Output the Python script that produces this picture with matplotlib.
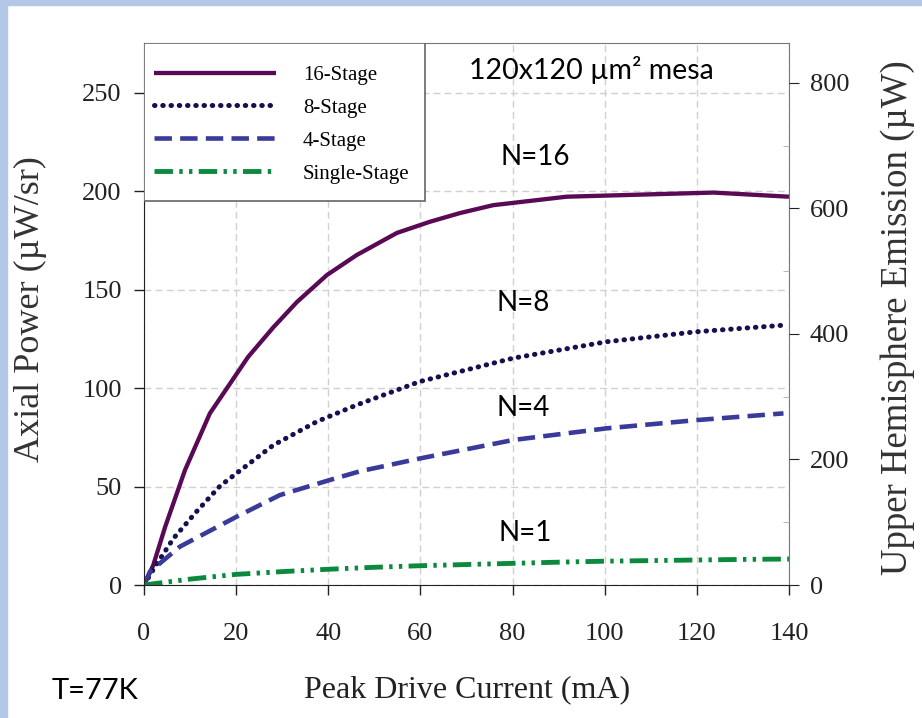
import matplotlib.pyplot as plt
from matplotlib.patches import Rectangle
from matplotlib.ticker import MultipleLocator

# peak drive current (mA) and axial power (uW/sr) for each device
x_16 = [0, 2, 4.6, 8.9, 14.3, 22.6, 28.1, 33.2, 39.7, 46.2, 54.9, 62.1, 68.6, 75.8, 91.7, 123.6, 140]
p_16 = [0, 10, 29.6, 58.4, 87.2, 115.9, 131, 143.8, 157.5, 167.7, 178.9, 184.6, 189, 193, 197.3, 199.4, 197.3]

x_8 = [0, 2.3, 6.4, 11.4, 16.5, 20.1, 28.1, 37.5, 46.2, 59.9, 80.2, 100.4, 120, 138.8]
p_8 = [0, 9, 23.7, 37.3, 50.3, 56.8, 71.1, 83, 91.5, 103.4, 115.3, 123.6, 128.7, 132]

x_4 = [0, 1.3, 7.8, 20.1, 29.5, 40.4, 46.9, 59.9, 80.2, 100.4, 120, 138.8]
p_4 = [0, 6.8, 19.5, 34.7, 45.7, 53.4, 57.8, 64.3, 73.7, 79.6, 83.8, 87.2]

x_1 = [0, 5, 10, 20, 30, 40, 50, 60, 70, 80, 90, 100, 110, 120, 130, 140]
p_1 = [0, 1.5, 3, 5.4, 6.8, 8.0, 9.0, 9.8, 10.4, 11.0, 11.6, 12.1, 12.4, 12.7, 13.0, 13.2]

labels = ["16-Stage", "8-Stage", "4-Stage", "Single-Stage"]
x_ticks = [0, 20, 40, 60, 80, 100, 120, 140]
left_ticks = [0, 50, 100, 150, 200, 250]
right_ticks = [0, 200, 400, 600, 800]

serif = "Liberation Serif"
sans = "Lato"

fig = plt.figure(figsize=(9.22, 7.18), dpi=100)
# slide border strips
fig.patches.append(Rectangle((0, 0), 7 / 922, 1, transform=fig.transFigure, color="#b4c7e7", zorder=0))
fig.patches.append(Rectangle((0, 1 - 5 / 718), 1, 5 / 718, transform=fig.transFigure, color="#b4c7e7", zorder=0))

ax = fig.add_axes([144 / 922, 133 / 718, 645 / 922, 542 / 718])

ax.plot(x_16, p_16, color="#5a0a55", lw=3.1, label=labels[0], solid_capstyle="butt")
ax.plot(x_8, p_8, color="#15104f", lw=3.6, ls=(0, (0.1, 1.55)), dash_capstyle="round", label=labels[1])
ax.plot(x_4, p_4, color="#3a3a9a", lw=3.3, ls=(0, (3.8, 1.8)), label=labels[2])
ax.plot(x_1, p_1, color="#0b8a3e", lw=3.5, ls=(0, (3.8, 1.3, 0.7, 1.3, 0.7, 1.3)), label=labels[3])

ax.set_xlim(0, 140)
ax.set_ylim(0, 275.4)
ax.set_xticks(x_ticks)
ax.set_yticks(left_ticks)
ax.grid(True, color="#d0d0d0", ls=(0, (5, 3)), lw=1)
ax.tick_params(direction="out", length=7, width=1, labelsize=19, colors="#222222")
ax.tick_params(axis="x", pad=20)
ax.tick_params(axis="y", pad=9)
for lab in ax.get_xticklabels() + ax.get_yticklabels():
    lab.set_fontfamily(serif)
for side in ["top", "right"]:
    ax.spines[side].set_color("#777777")
for side in ["left", "bottom"]:
    ax.spines[side].set_color("#222222")

# right axis: hemisphere emission
ax2 = ax.twinx()
ax2.set_ylim(0, 863.7)
ax2.set_yticks(right_ticks)
ax2.yaxis.set_minor_locator(MultipleLocator(100))
ax2.tick_params(which="major", direction="out", length=7, labelsize=19, pad=8, colors="#222222")
ax2.tick_params(which="minor", direction="in", length=4, color="#aaaaaa")
for lab in ax2.get_yticklabels():
    lab.set_fontfamily(serif)
for side in ["top", "right", "left", "bottom"]:
    ax2.spines[side].set_visible(False)

# legend box drawn separately so the entries can sit with their own padding
box = Rectangle((0, 0.7085), 0.4357, 0.2915, transform=ax.transAxes, facecolor="white",
                edgecolor="#666666", lw=1.2, zorder=4)
ax.add_patch(box)
leg = ax.legend(loc="upper left", bbox_to_anchor=(0.0155, 0.959), borderaxespad=0, borderpad=0,
                frameon=False, prop={"family": serif, "size": 15}, handlelength=5.85,
                handletextpad=1.3, labelspacing=0.64)
leg.set_zorder(5)

ax.text(97.2, 261.7, "120x120 \u00b5m\u00b2 mesa", family=sans, fontsize=20.5, ha="center", va="center")
ax.text(84.9, 217.5, "N=16", family=sans, fontsize=20, ha="center", va="center")
ax.text(82.3, 143.3, "N=8", family=sans, fontsize=20, ha="center", va="center")
ax.text(82.3, 90, "N=4", family=sans, fontsize=20, ha="center", va="center")
ax.text(82.7, 26.4, "N=1", family=sans, fontsize=20, ha="center", va="center")

fig.text(30 / 922, 1 - 309 / 718, "Axial Power (\u00b5W/sr)", family=serif, fontsize=26,
         rotation=90, ha="center", va="center", color="#333333")
fig.text(898 / 922, 1 - 318 / 718, "Upper Hemisphere Emission (\u00b5W)", family=serif, fontsize=26.5,
         rotation=90, ha="center", va="center", color="#333333")
fig.text(467 / 922, 1 - 690 / 718, "Peak Drive Current (mA)", family=serif, fontsize=23,
         ha="center", va="center", color="#222222")
fig.text(95 / 922, 1 - 691 / 718, "T=77K", family=sans, fontsize=21, ha="center", va="center")

fig.savefig("out.png", dpi=100)
